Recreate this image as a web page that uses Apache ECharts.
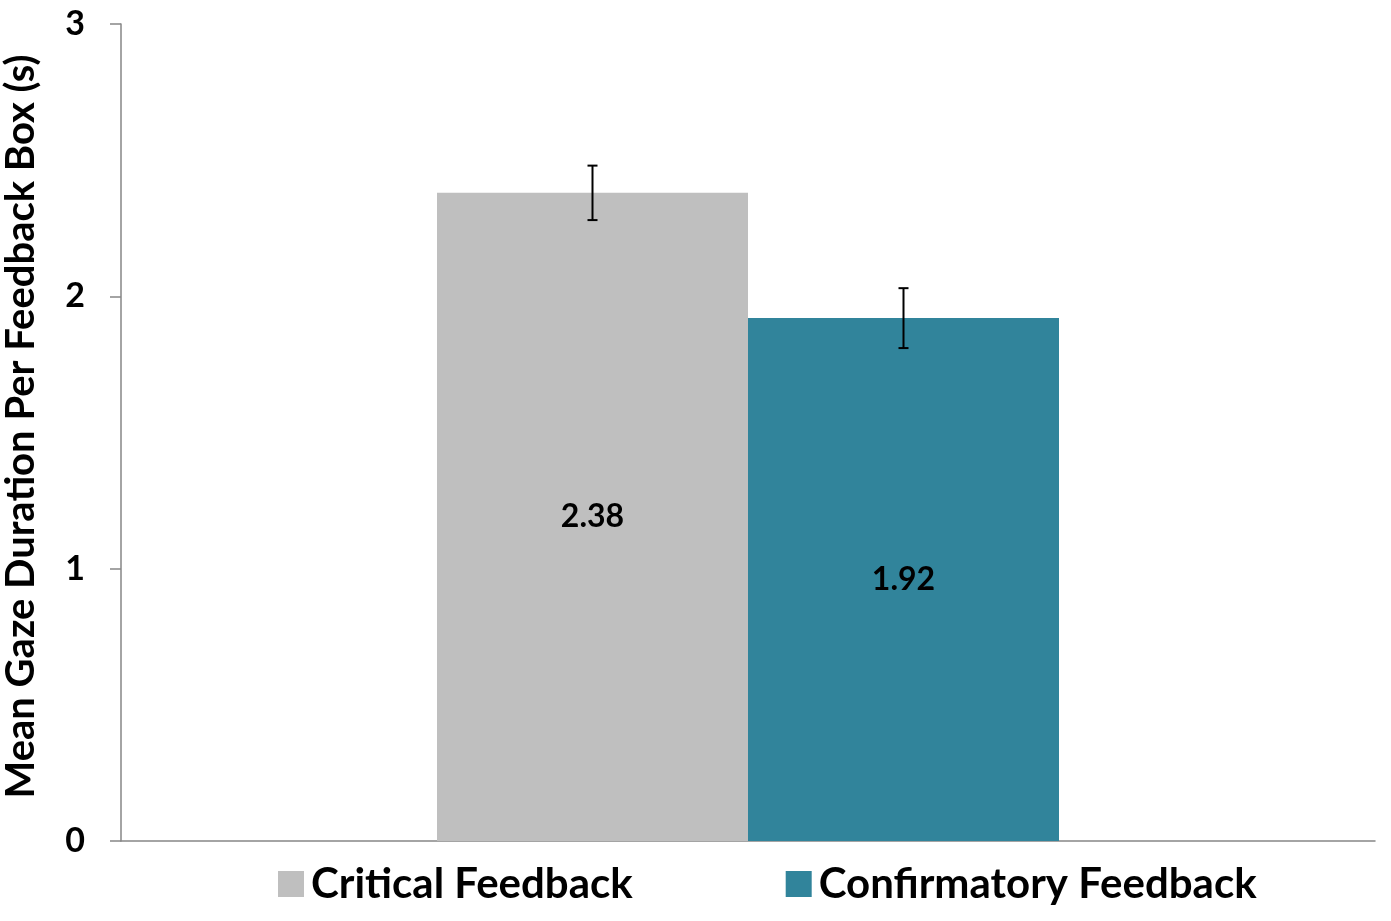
<!DOCTYPE html>
<html style="height: 100%">
<head>
    <meta charset="UTF-8">
    <title>Mean Gaze Duration</title>
    <script src="https://cdn.jsdelivr.net/npm/echarts@6/dist/echarts.min.js"></script>
</head>
<body style="height: 100%; margin: 0; background: #fff">
    <div id="main" style="width: 1391px; height: 921px;"></div>
    <script>
        // data
        var seriesNames = ['Critical Feedback', 'Confirmatory Feedback'];
        var means = [2.38, 1.92];
        var errors = [0.10, 0.11];
        var colors = ['#BFBFBF', '#31849B'];
        var yTicks = [0, 1, 2, 3];

        var font = 'Lato, "Open Sans", sans-serif';
        var barW = 311;

        var myChart = echarts.init(document.getElementById('main'));

        var barSeries = seriesNames.map(function (name, i) {
            return {
                name: name,
                type: 'bar',
                barWidth: barW,
                barGap: '0%',
                data: [means[i]],
                itemStyle: { color: colors[i] },
                label: {
                    show: true,
                    position: 'inside',
                    formatter: function (p) { return p.value.toFixed(2); },
                    color: '#000',
                    fontFamily: font,
                    fontWeight: 'bold',
                    fontSize: 32
                }
            };
        });

        // error bars drawn on top of the bars
        var errData = means.map(function (m, i) { return [0, m, errors[i], i]; });
        var errorSeries = {
            type: 'custom',
            data: errData,
            z: 10,
            renderItem: function (params, api) {
                var idx = api.value(3);
                var mean = api.value(1), err = api.value(2);
                var off = (idx === 0 ? -1 : 1) * barW / 2;
                var top = api.coord([0, mean + err]);
                var bot = api.coord([0, mean - err]);
                var x = top[0] + off;
                var cap = 5;
                var st = { stroke: '#000', lineWidth: 2 };
                return {
                    type: 'group',
                    children: [
                        { type: 'line', shape: { x1: x, y1: top[1], x2: x, y2: bot[1] }, style: st },
                        { type: 'line', shape: { x1: x - cap, y1: top[1], x2: x + cap, y2: top[1] }, style: st },
                        { type: 'line', shape: { x1: x - cap, y1: bot[1], x2: x + cap, y2: bot[1] }, style: st }
                    ]
                };
            }
        };

        var option = {
            animation: false,
            grid: { left: 121, right: 16, top: 24, bottom: 80, outerBoundsMode: 'none', containLabel: false },
            legend: {
                data: seriesNames,
                left: 273,
                top: 858,
                itemWidth: 26,
                itemHeight: 26,
                itemGap: 153,
                icon: 'rect',
                textStyle: {
                    fontFamily: font,
                    fontWeight: 'bold',
                    fontSize: 42,
                    color: '#000',
                    padding: [0, 0, 0, 2]
                }
            },
            xAxis: {
                type: 'category',
                data: [''],
                axisLine: { lineStyle: { color: '#868686', width: 1.5 } },
                axisTick: { show: false },
                axisLabel: { show: false }
            },
            yAxis: {
                type: 'value',
                min: yTicks[0],
                max: yTicks[yTicks.length - 1],
                interval: 1,
                name: 'Mean Gaze Duration Per Feedback Box (s)',
                nameLocation: 'middle',
                nameGap: 80,
                nameMoveOverlap: false,
                nameTextStyle: {
                    fontFamily: font,
                    fontWeight: 'bold',
                    fontSize: 40,
                    color: '#000',
                    padding: [0, 0, 0, 12]
                },
                axisLine: { show: true, lineStyle: { color: '#868686', width: 1.5 } },
                axisTick: { show: true, length: 11, lineStyle: { color: '#868686', width: 1.5 } },
                axisLabel: {
                    margin: 36,
                    fontFamily: font,
                    fontWeight: 'bold',
                    fontSize: 34,
                    color: '#000'
                },
                splitLine: { show: false }
            },
            series: barSeries.concat([errorSeries])
        };

        myChart.setOption(option);
    </script>
</body>
</html>
